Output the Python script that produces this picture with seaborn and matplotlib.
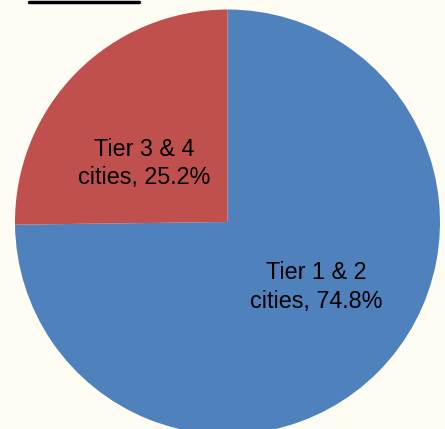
import matplotlib
matplotlib.use("Agg")
import matplotlib.pyplot as plt
import seaborn as sns

# --- Data ---
labels = ["Tier 1 & 2\ncities", "Tier 3 & 4\ncities"]
shares = [74.8, 25.2]
colors = sns.color_palette(["#4F81BD", "#C0504D"])

sns.set_style("white")
plt.rcParams["font.family"] = ["Liberation Sans", "DejaVu Sans"]
bg = "#FFFCF3"

fig = plt.figure(figsize=(4.45, 4.29), dpi=100, facecolor=bg)
ax = fig.add_axes([15 / 445, -5.5 / 429, 425 / 445, 425 / 429])
ax.set_facecolor(bg)

wedges, _ = ax.pie(shares, colors=colors, startangle=90, counterclock=False,
                   radius=1, wedgeprops=dict(linewidth=0))
ax.set_xlim(-1, 1)
ax.set_ylim(-1, 1)
ax.set_aspect("equal")
ax.axis("off")

# --- Labels ---
label_pos = [(0.42, -0.305), (-0.39, 0.275)]
for lab, val, (x, y) in zip(labels, shares, label_pos):
    ax.text(x, y, f"{lab}, {val}%", ha="center", va="center",
            fontsize=16.8, color="black", linespacing=1.3)

# cropped title underline at the top
fig.add_artist(plt.Line2D([29 / 445, 139 / 445], [1 - 2 / 429, 1 - 2 / 429],
                          color="black", linewidth=2.5))

fig.savefig("out.png", dpi=100, facecolor=bg)
